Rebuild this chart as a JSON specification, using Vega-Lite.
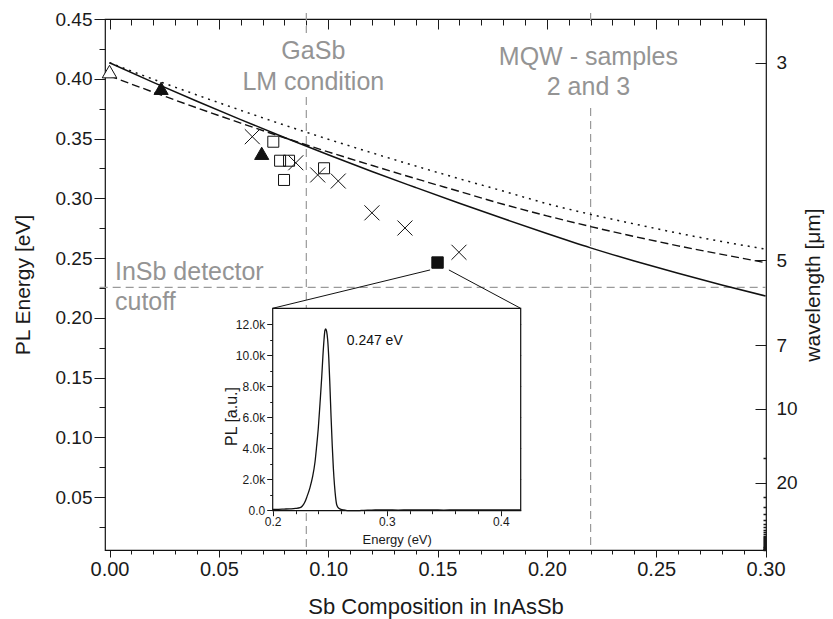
{
  "$schema": "https://vega.github.io/schema/vega-lite/v6.json",
  "width": 661,
  "height": 531,
  "autosize": {"type": "none"},
  "padding": {"left": 105, "top": 19, "right": 67, "bottom": 69},
  "background": "white",
  "config": {
    "view": {"stroke": "#111", "strokeWidth": 1.2},
    "axis": {"grid": false, "domain": false, "labelFont": "Liberation Sans", "titleFont": "Liberation Sans", "labelColor": "#1a1a1a", "titleColor": "#1a1a1a", "tickColor": "#1a1a1a", "titleFontWeight": "normal", "labelFlush": false, "labelOverlap": false, "labelBound": false, "tickWidth": 1},
    "text": {"font": "Liberation Sans"}
  },
  "datasets": {
    "vrules": [
      {"x": 0.09, "y1": 0.455, "y2": 0.4383},
      {"x": 0.09, "y1": 0.3847, "y2": 0.00565},
      {"x": 0.22, "y1": 0.455, "y2": 0.445},
      {"x": 0.22, "y1": 0.3755, "y2": 0.00565}
    ],
    "hrule": [{"x1": -0.0045, "x2": 0.3002, "y": 0.2255}],
    "solid": [
      {"x": 0, "y": 0.4134}, {"x": 0.02, "y": 0.397}, {"x": 0.04, "y": 0.3812}, {"x": 0.06, "y": 0.3658},
      {"x": 0.08, "y": 0.3508}, {"x": 0.10, "y": 0.3364}, {"x": 0.12, "y": 0.3224}, {"x": 0.14, "y": 0.309},
      {"x": 0.16, "y": 0.2958}, {"x": 0.18, "y": 0.283}, {"x": 0.20, "y": 0.2705}, {"x": 0.22, "y": 0.2585},
      {"x": 0.24, "y": 0.2475}, {"x": 0.26, "y": 0.2372}, {"x": 0.28, "y": 0.2274}, {"x": 0.30, "y": 0.2182}
    ],
    "dashed": [
      {"x": 0, "y": 0.4024}, {"x": 0.02, "y": 0.3888}, {"x": 0.04, "y": 0.3756}, {"x": 0.06, "y": 0.3629},
      {"x": 0.08, "y": 0.3506}, {"x": 0.10, "y": 0.3388}, {"x": 0.12, "y": 0.3275}, {"x": 0.14, "y": 0.3164},
      {"x": 0.16, "y": 0.3057}, {"x": 0.18, "y": 0.295}, {"x": 0.20, "y": 0.2853}, {"x": 0.22, "y": 0.2763},
      {"x": 0.24, "y": 0.268}, {"x": 0.26, "y": 0.2602}, {"x": 0.28, "y": 0.253}, {"x": 0.30, "y": 0.2461}
    ],
    "dotted": [
      {"x": 0, "y": 0.4134}, {"x": 0.02, "y": 0.3996}, {"x": 0.04, "y": 0.3864}, {"x": 0.06, "y": 0.3736},
      {"x": 0.08, "y": 0.3612}, {"x": 0.10, "y": 0.3494}, {"x": 0.12, "y": 0.338}, {"x": 0.14, "y": 0.327},
      {"x": 0.16, "y": 0.3163}, {"x": 0.18, "y": 0.306}, {"x": 0.20, "y": 0.2955}, {"x": 0.22, "y": 0.2865},
      {"x": 0.24, "y": 0.2785}, {"x": 0.26, "y": 0.2708}, {"x": 0.28, "y": 0.2638}, {"x": 0.30, "y": 0.2574}
    ],
    "opentri": [{"x": 0, "y": 0.406}],
    "filltri": [{"x": 0.0236, "y": 0.392}, {"x": 0.0696, "y": 0.3376}],
    "opensq": [
      {"x": 0.0749, "y": 0.3473}, {"x": 0.078, "y": 0.3314}, {"x": 0.0821, "y": 0.3314},
      {"x": 0.0798, "y": 0.3153}, {"x": 0.0981, "y": 0.3251}
    ],
    "crosses": [
      {"x": 0.0653, "y": 0.3515}, {"x": 0.0852, "y": 0.3297}, {"x": 0.0952, "y": 0.3195},
      {"x": 0.1046, "y": 0.3144}, {"x": 0.12, "y": 0.2878}, {"x": 0.1351, "y": 0.2751}, {"x": 0.1598, "y": 0.2548}
    ],
    "fillsq": [{"x": 0.15, "y": 0.2462}],
    "graycenter": [
      {"x": 0.0932, "y": 0.4163, "t": "GaSb"},
      {"x": 0.0932, "y": 0.3906, "t": "LM condition"},
      {"x": 0.219, "y": 0.4115, "t": "MQW - samples"},
      {"x": 0.219, "y": 0.3864, "t": "2 and 3"}
    ],
    "grayleft": [
      {"x": 0.0025, "y": 0.2316, "t": "InSb detector"},
      {"x": 0.0025, "y": 0.2065, "t": "cutoff"}
    ],
    "connectors": [
      {"seg": 1, "x": 0.1466, "y": 0.240}, {"seg": 1, "x": 0.0746, "y": 0.2079},
      {"seg": 2, "x": 0.1552, "y": 0.240}, {"seg": 2, "x": 0.188, "y": 0.2079}
    ],
    "insetframe": [{"x1": 0.2, "x2": 0.4175, "y1": -45, "y2": 13034}],
    "spectrum": [
      {"e": 0.200, "pl": 40}, {"e": 0.205, "pl": 45}, {"e": 0.210, "pl": 60}, {"e": 0.215, "pl": 75},
      {"e": 0.220, "pl": 100}, {"e": 0.224, "pl": 150}, {"e": 0.226, "pl": 260}, {"e": 0.228, "pl": 480},
      {"e": 0.230, "pl": 850}, {"e": 0.2327, "pl": 1450}, {"e": 0.235, "pl": 2150}, {"e": 0.2371, "pl": 3100},
      {"e": 0.2385, "pl": 4100}, {"e": 0.240, "pl": 5300}, {"e": 0.2415, "pl": 6900}, {"e": 0.243, "pl": 8600},
      {"e": 0.244, "pl": 9900}, {"e": 0.245, "pl": 11000}, {"e": 0.2458, "pl": 11600}, {"e": 0.2465, "pl": 11700},
      {"e": 0.2473, "pl": 11550}, {"e": 0.2482, "pl": 11000}, {"e": 0.2492, "pl": 9800}, {"e": 0.2502, "pl": 8000},
      {"e": 0.2512, "pl": 6000}, {"e": 0.2522, "pl": 4200}, {"e": 0.2532, "pl": 2700}, {"e": 0.2542, "pl": 1600},
      {"e": 0.2552, "pl": 800}, {"e": 0.2562, "pl": 320}, {"e": 0.258, "pl": 110}, {"e": 0.2605, "pl": 30},
      {"e": 0.264, "pl": -20}, {"e": 0.268, "pl": -40}, {"e": 0.272, "pl": -45}, {"e": 0.276, "pl": -35},
      {"e": 0.28, "pl": -20}, {"e": 0.285, "pl": -10}, {"e": 0.29, "pl": 0}, {"e": 0.30, "pl": 5},
      {"e": 0.31, "pl": -5}, {"e": 0.32, "pl": 10}, {"e": 0.33, "pl": 0}, {"e": 0.34, "pl": 8},
      {"e": 0.35, "pl": -3}, {"e": 0.36, "pl": 6}, {"e": 0.37, "pl": 0}, {"e": 0.38, "pl": 10},
      {"e": 0.39, "pl": 2}, {"e": 0.40, "pl": 8}, {"e": 0.41, "pl": 0}, {"e": 0.4175, "pl": 5}
    ],
    "insettext": [{"e": 0.2649, "pl": 10662, "t": "0.247 eV"}]
  },
  "resolve": {"scale": {"x": "independent", "y": "independent"}},
  "layer": [
    {
      "data": {"name": "vrules"},
      "mark": {"type": "rule", "color": "#9a9a9a", "strokeDash": [8, 5], "strokeWidth": 1.2},
      "encoding": {
        "x": {"field": "x", "type": "quantitative", "scale": {"domain": [-0.00206, 0.3002], "nice": false, "zero": false},
          "axis": {"orient": "bottom", "values": [0.01,0.02,0.03,0.04,0.06,0.07,0.08,0.09,0.11,0.12,0.13,0.14,0.16,0.17,0.18,0.19,0.21,0.22,0.23,0.24,0.26,0.27,0.28,0.29], "labels": false, "tickSize": 4, "title": null}},
        "y": {"field": "y1", "type": "quantitative", "scale": {"domain": [0.00565, 0.45], "nice": false, "zero": false},
          "axis": {"orient": "left", "values": [0.025,0.075,0.125,0.175,0.225,0.275,0.325,0.375,0.425], "labels": false, "tickSize": 6, "title": null}},
        "y2": {"field": "y2"}
      }
    },
    {
      "data": {"name": "hrule"},
      "mark": {"type": "rule", "color": "#9a9a9a", "strokeDash": [8, 5], "strokeWidth": 1.2},
      "encoding": {
        "x": {"field": "x1", "type": "quantitative", "scale": {"domain": [-0.00206, 0.3002], "nice": false, "zero": false},
          "axis": {"orient": "bottom", "offset": -531, "values": [0.01,0.02,0.03,0.04,0.06,0.07,0.08,0.09,0.11,0.12,0.13,0.14,0.16,0.17,0.18,0.19,0.21,0.22,0.23,0.24,0.26,0.27,0.28,0.29], "labels": false, "tickSize": 6, "title": null}},
        "x2": {"field": "x2"},
        "y": {"field": "y", "type": "quantitative", "scale": {"domain": [0.00565, 0.45], "nice": false, "zero": false},
          "axis": {"orient": "left", "offset": -661, "values": [0.082667,0.0496,0.041333,0.035429,0.031,0.027556,0.0248,0.022545,0.020667,0.019077,0.017714,0.016533,0.0155,0.014588,0.013778,0.013053,0.0124,0.011273,0.010333,0.009538,0.008857,0.008267,0.00775,0.007294,0.006889,0.006526,0.0062,0.005905], "labels": false, "tickSize": 3, "tickWidth": 1.5, "title": null}}
      }
    },
    {
      "data": {"name": "solid"},
      "mark": {"type": "line", "color": "#111", "strokeWidth": 1.5, "interpolate": "monotone"},
      "encoding": {
        "x": {"field": "x", "type": "quantitative", "scale": {"domain": [-0.00206, 0.3002], "nice": false, "zero": false},
          "axis": {"orient": "bottom", "values": [0, 0.05, 0.1, 0.15, 0.2, 0.25, 0.3], "format": ".2f", "tickSize": 7, "labelFontSize": 20, "labelPadding": 2, "title": "Sb Composition in InAsSb", "titleFontSize": 22, "titleY": 56, "titleBaseline": "middle"}},
        "y": {"field": "y", "type": "quantitative", "scale": {"domain": [0.00565, 0.45], "nice": false, "zero": false},
          "axis": {"orient": "left", "values": [0.05, 0.1, 0.15, 0.2, 0.25, 0.3, 0.35, 0.4, 0.45], "format": ".2f", "tickSize": 11, "labelFontSize": 19, "labelPadding": 2, "title": "PL Energy [eV]", "titleFontSize": 21, "titleX": -82, "titleBaseline": "middle"}}
      }
    },
    {
      "data": {"name": "dashed"},
      "mark": {"type": "line", "color": "#111", "strokeWidth": 1.4, "strokeDash": [8, 4], "interpolate": "monotone"},
      "encoding": {
        "x": {"field": "x", "type": "quantitative", "scale": {"domain": [-0.00206, 0.3002], "nice": false, "zero": false},
          "axis": {"orient": "bottom", "offset": -531, "values": [0, 0.05, 0.1, 0.15, 0.2, 0.25, 0.3], "labels": false, "tickSize": 10, "title": null}},
        "y": {"field": "y", "type": "quantitative", "scale": {"domain": [0.00565, 0.45], "nice": false, "zero": false},
          "axis": {"orient": "right", "values": [0.413333, 0.248, 0.177143, 0.124, 0.062], "labelExpr": "'' + round(1.24/datum.value)", "ticks": false, "tickSize": 0, "labelPadding": 10, "labelFontSize": 19, "title": "wavelength [μm]", "titleFontSize": 21, "titleAngle": -90, "titleX": 47, "titleBaseline": "middle"}}
      }
    },
    {
      "data": {"name": "dotted"},
      "mark": {"type": "line", "color": "#111", "strokeWidth": 1.5, "strokeDash": [2, 5], "interpolate": "monotone"},
      "encoding": {
        "x": {"field": "x", "type": "quantitative", "scale": {"domain": [-0.00206, 0.3002], "nice": false, "zero": false}, "axis": null},
        "y": {"field": "y", "type": "quantitative", "scale": {"domain": [0.00565, 0.45], "nice": false, "zero": false},
          "axis": {"orient": "left", "offset": -661, "values": [0.413333, 0.248, 0.177143, 0.124, 0.062], "labels": false, "tickSize": 11, "title": null}}
      }
    },
    {
      "data": {"name": "opentri"},
      "mark": {"type": "point", "shape": "triangle-up", "filled": true, "fill": "white", "stroke": "#111", "strokeWidth": 1, "size": 210, "opacity": 1},
      "encoding": {
        "x": {"field": "x", "type": "quantitative", "scale": {"domain": [-0.00206, 0.3002], "nice": false, "zero": false}, "axis": null},
        "y": {"field": "y", "type": "quantitative", "scale": {"domain": [0.00565, 0.45], "nice": false, "zero": false}, "axis": null}
      }
    },
    {
      "data": {"name": "filltri"},
      "mark": {"type": "point", "shape": "triangle-up", "filled": true, "fill": "#111", "stroke": "#111", "strokeWidth": 1, "size": 200, "opacity": 1},
      "encoding": {
        "x": {"field": "x", "type": "quantitative", "scale": {"domain": [-0.00206, 0.3002], "nice": false, "zero": false}, "axis": null},
        "y": {"field": "y", "type": "quantitative", "scale": {"domain": [0.00565, 0.45], "nice": false, "zero": false}, "axis": null}
      }
    },
    {
      "data": {"name": "opensq"},
      "mark": {"type": "point", "shape": "square", "filled": false, "stroke": "#111", "strokeWidth": 1, "size": 121, "opacity": 1},
      "encoding": {
        "x": {"field": "x", "type": "quantitative", "scale": {"domain": [-0.00206, 0.3002], "nice": false, "zero": false}, "axis": null},
        "y": {"field": "y", "type": "quantitative", "scale": {"domain": [0.00565, 0.45], "nice": false, "zero": false}, "axis": null}
      }
    },
    {
      "data": {"name": "crosses"},
      "mark": {"type": "point", "shape": "M-1,-1L1,1M-1,1L1,-1", "filled": false, "stroke": "#111", "strokeWidth": 1, "size": 225, "opacity": 1},
      "encoding": {
        "x": {"field": "x", "type": "quantitative", "scale": {"domain": [-0.00206, 0.3002], "nice": false, "zero": false}, "axis": null},
        "y": {"field": "y", "type": "quantitative", "scale": {"domain": [0.00565, 0.45], "nice": false, "zero": false}, "axis": null}
      }
    },
    {
      "data": {"name": "fillsq"},
      "mark": {"type": "point", "shape": "square", "filled": true, "fill": "#111", "stroke": "#111", "strokeWidth": 1, "size": 130, "opacity": 1},
      "encoding": {
        "x": {"field": "x", "type": "quantitative", "scale": {"domain": [-0.00206, 0.3002], "nice": false, "zero": false}, "axis": null},
        "y": {"field": "y", "type": "quantitative", "scale": {"domain": [0.00565, 0.45], "nice": false, "zero": false}, "axis": null}
      }
    },
    {
      "data": {"name": "graycenter"},
      "mark": {"type": "text", "align": "center", "baseline": "alphabetic", "fontSize": 25, "color": "#949494"},
      "encoding": {
        "x": {"field": "x", "type": "quantitative", "scale": {"domain": [-0.00206, 0.3002], "nice": false, "zero": false}, "axis": null},
        "y": {"field": "y", "type": "quantitative", "scale": {"domain": [0.00565, 0.45], "nice": false, "zero": false}, "axis": null},
        "text": {"field": "t"}
      }
    },
    {
      "data": {"name": "grayleft"},
      "mark": {"type": "text", "align": "left", "baseline": "alphabetic", "fontSize": 25, "color": "#949494"},
      "encoding": {
        "x": {"field": "x", "type": "quantitative", "scale": {"domain": [-0.00206, 0.3002], "nice": false, "zero": false}, "axis": null},
        "y": {"field": "y", "type": "quantitative", "scale": {"domain": [0.00565, 0.45], "nice": false, "zero": false}, "axis": null},
        "text": {"field": "t"}
      }
    },
    {
      "data": {"name": "insetframe"},
      "mark": {"type": "rect", "fill": "white", "stroke": "#111", "strokeWidth": 1.2},
      "encoding": {
        "x": {"field": "x1", "type": "quantitative", "scale": {"domain": [0.2, 0.4175], "range": [167.7, 415.7], "nice": false, "zero": false},
          "axis": {"orient": "bottom", "offset": -39.3, "values": [0.2, 0.3, 0.4], "format": ".1f", "tickSize": 5, "labelFontSize": 12, "labelPadding": 1, "title": "Energy (eV)", "titleFontSize": 13, "titleY": 29, "titleBaseline": "middle"}},
        "x2": {"field": "x2"},
        "y": {"field": "y1", "type": "quantitative", "scale": {"domain": [-45, 13034], "range": [491.7, 289.3], "nice": false, "zero": false},
          "axis": {"orient": "left", "offset": -167.7, "values": [0, 2000, 4000, 6000, 8000, 10000, 12000], "labelExpr": "datum.value == 0 ? '0.0' : format(datum.value/1000, '.1f') + 'k'", "tickSize": 6, "labelFontSize": 12, "labelPadding": 2, "title": "PL [a.u.]", "titleFontSize": 16, "titleAngle": -90, "titleX": -41, "titleY": 397, "titleBaseline": "middle"}},
        "y2": {"field": "y2"}
      }
    },
    {
      "data": {"name": "spectrum"},
      "mark": {"type": "line", "color": "#111", "strokeWidth": 1.3, "interpolate": "monotone"},
      "encoding": {
        "x": {"field": "e", "type": "quantitative", "scale": {"domain": [0.2, 0.4175], "range": [167.7, 415.7], "nice": false, "zero": false},
          "axis": {"orient": "bottom", "offset": -39.3, "values": [0.22, 0.24, 0.26, 0.28, 0.32, 0.34, 0.36, 0.38], "labels": false, "tickSize": 3, "title": null}},
        "y": {"field": "pl", "type": "quantitative", "scale": {"domain": [-45, 13034], "range": [491.7, 289.3], "nice": false, "zero": false},
          "axis": {"orient": "left", "offset": -167.7, "values": [1000, 3000, 5000, 7000, 9000, 11000], "labels": false, "tickSize": 3, "title": null}}
      }
    },
    {
      "data": {"name": "insettext"},
      "mark": {"type": "text", "align": "left", "baseline": "alphabetic", "fontSize": 14, "color": "#111"},
      "encoding": {
        "x": {"field": "e", "type": "quantitative", "scale": {"domain": [0.2, 0.4175], "range": [167.7, 415.7], "nice": false, "zero": false},
          "axis": {"orient": "bottom", "offset": -241.7, "values": [0.2, 0.22, 0.24, 0.26, 0.28, 0.3, 0.32, 0.34, 0.36, 0.38, 0.4], "labels": false, "tickSize": 4, "title": null}},
        "y": {"field": "pl", "type": "quantitative", "scale": {"domain": [-45, 13034], "range": [491.7, 289.3], "nice": false, "zero": false},
          "axis": {"orient": "left", "offset": -415.7, "values": [0, 2000, 4000, 6000, 8000, 10000, 12000], "labels": false, "tickSize": 4, "title": null}},
        "text": {"field": "t"}
      }
    },
    {
      "data": {"name": "connectors"},
      "mark": {"type": "line", "color": "#111", "strokeWidth": 1},
      "encoding": {
        "x": {"field": "x", "type": "quantitative", "scale": {"domain": [-0.00206, 0.3002], "nice": false, "zero": false}, "axis": null},
        "y": {"field": "y", "type": "quantitative", "scale": {"domain": [0.00565, 0.45], "nice": false, "zero": false}, "axis": null},
        "detail": {"field": "seg", "type": "nominal"}
      }
    }
  ]
}
